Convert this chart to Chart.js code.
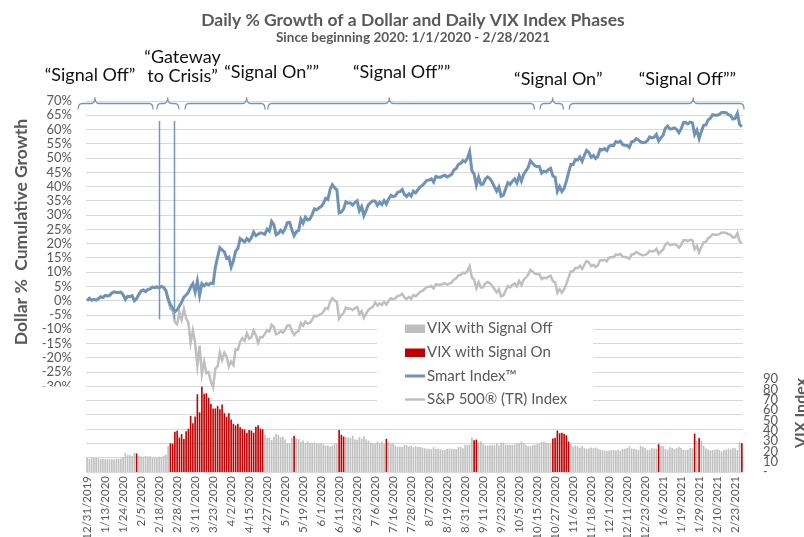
<!DOCTYPE html>
<html>
<head>
<meta charset="utf-8">
<title>Daily % Growth of a Dollar and Daily VIX Index Phases</title>
<script src="https://cdn.jsdelivr.net/npm/chart.js@4.4.1/dist/chart.umd.min.js"></script>
<style>
    html, body { margin: 0; padding: 0; background: #fff; }
    #chart_wrap { width: 804px; height: 537px; }
</style>
</head>
<body>
<div id="chart_wrap"><canvas id="chart_vix" width="804" height="537"></canvas></div>
<script>
// ----------------------- data -----------------------

// trading days per month ("YYYY-MM": days)
const tradingMonths = [
    ["2019-12", "31"],
    ["2020-01", "2 3 6 7 8 9 10 13 14 15 16 17 21 22 23 24 27 28 29 30 31"],
    ["2020-02", "3 4 5 6 7 10 11 12 13 14 18 19 20 21 24 25 26 27 28"],
    ["2020-03", "2 3 4 5 6 9 10 11 12 13 16 17 18 19 20 23 24 25 26 27 30 31"],
    ["2020-04", "1 2 3 6 7 8 9 13 14 15 16 17 20 21 22 23 24 27 28 29 30"],
    ["2020-05", "1 4 5 6 7 8 11 12 13 14 15 18 19 20 21 22 26 27 28 29"],
    ["2020-06", "1 2 3 4 5 8 9 10 11 12 15 16 17 18 19 22 23 24 25 26 29 30"],
    ["2020-07", "1 2 6 7 8 9 10 13 14 15 16 17 20 21 22 23 24 27 28 29 30 31"],
    ["2020-08", "3 4 5 6 7 10 11 12 13 14 17 18 19 20 21 24 25 26 27 28 31"],
    ["2020-09", "1 2 3 4 8 9 10 11 14 15 16 17 18 21 22 23 24 25 28 29 30"],
    ["2020-10", "1 2 5 6 7 8 9 12 13 14 15 16 19 20 21 22 23 26 27 28 29 30"],
    ["2020-11", "2 3 4 5 6 9 10 11 12 13 16 17 18 19 20 23 24 25 27 30"],
    ["2020-12", "1 2 3 4 7 8 9 10 11 14 15 16 17 18 21 22 23 24 28 29 30 31"],
    ["2021-01", "4 5 6 7 8 11 12 13 14 15 19 20 21 22 25 26 27 28 29"],
    ["2021-02", "1 2 3 4 5 8 9 10 11 12 16 17 18 19 22 23 24 25 26"],
];

// cumulative growth, % (one value per trading day)
const smartIndex = [
    0,
    0.85, 0.15, 0.5, 0.25, 0.7, 1.4, 1.1, 1.85, 1.7, 1.9, 2.75, 3.15, 2.9, 2.9, 3.05, 2.1, 0.5, 1.55, 1.45, 1.8, 0.0,
    0.75, 2.25, 3.4, 3.75, 3.2, 3.95, 4.15, 4.8, 4.65, 4.85, 4.55, 5.05, 4.65, 3.6, 0.7, -1.3, -2.6, -3.8, -3.2,
    -1.8, -0.5, 1.3, 2.0, 3.0, 4.8, 6.0, 3.0, 6.9, 1.9, 6.0, 5.2, 6.0, 5.6, 6.2, 6.0, 11.8, 15.3, 18.6, 17.8, 17.1, 14.8,
    15.3, 11.8, 14.0, 17.4, 18.3, 21.8, 21.2, 20.6, 21.8, 21.0, 22.1, 24.1, 22.8, 23.3, 23.8, 23.6, 23.3, 25.1, 24.4, 27.8, 26.7,
    23.1, 23.6, 24.7, 23.9, 25.3, 27.4, 27.5, 24.9, 22.8, 24.2, 24.6, 28.6, 27.2, 29.3, 28.3, 28.6, 30.2, 32.2, 31.9, 32.5,
    33.0, 34.1, 35.9, 35.5, 39.0, 40.7, 39.6, 38.9, 30.8, 31.1, 32.2, 34.7, 34.2, 34.3, 33.5, 34.4, 35.0, 31.5, 33.0, 29.8, 31.7, 33.7,
    34.4, 35.0, 34.9, 33.4, 34.5, 33.7, 35.1, 33.9, 35.7, 36.9, 36.5, 36.8, 38.0, 38.2, 39.0, 37.3, 36.5, 37.5, 36.7, 38.4, 37.8, 38.9,
    39.9, 40.4, 41.3, 42.2, 42.3, 42.7, 41.6, 43.6, 43.3, 43.3, 43.7, 44.0, 43.4, 43.8, 44.3, 45.8, 46.3, 47.8, 48.1, 49.1, 48.7,
    49.9, 52.2, 45.6, 44.4, 40.5, 43.3, 40.8, 40.9, 42.7, 43.4, 42.8, 41.6, 40.0, 38.4, 39.9, 36.6, 37.0, 39.2, 41.4, 40.8, 41.9,
    42.7, 41.3, 43.8, 41.9, 44.3, 45.5, 46.7, 49.1, 48.2, 47.3, 47.0, 47.1, 44.7, 45.4, 45.1, 45.9, 46.4, 43.7, 43.3, 38.3, 40.0, 38.3,
    39.4, 41.9, 45.0, 47.8, 47.7, 49.5, 49.3, 50.4, 48.9, 51.0, 52.7, 52.0, 50.3, 50.9, 49.9, 50.7, 53.1, 52.9, 53.3, 52.6,
    54.2, 54.5, 54.4, 55.8, 55.5, 55.9, 54.7, 54.5, 54.4, 53.7, 55.7, 55.9, 56.8, 56.3, 55.7, 55.4, 55.5, 56.1, 57.4, 57.1, 57.3, 58.3,
    56.0, 57.1, 58.0, 60.4, 61.2, 60.2, 60.3, 60.6, 60.1, 58.9, 60.2, 62.4, 62.5, 62.0, 62.6, 62.4, 58.3, 59.8, 56.8,
    59.3, 61.5, 61.6, 63.4, 64.0, 65.2, 65.0, 65.0, 65.3, 66.0, 66.0, 65.9, 65.2, 64.9, 63.7, 63.9, 65.7, 61.8, 61.0,
];

const spIndex = [
    0,
    0.85, 0.15, 0.5, 0.25, 0.7, 1.4, 1.1, 1.85, 1.7, 1.9, 2.75, 3.15, 2.9, 2.9, 3.05, 2.1, 0.5, 1.55, 1.45, 1.8, 0.0,
    0.75, 2.25, 3.4, 3.75, 3.2, 3.95, 4.15, 4.8, 4.65, 4.85, 4.55, 5.05, 4.65, 3.55, 0.1, -2.9, -3.25, -7.5, -8.25,
    -4.05, -6.7, -2.8, -6.1, -7.7, -14.7, -10.4, -14.8, -22.8, -15.7, -25.7, -21.3, -25.4, -25.0, -28.3, -30.3, -23.8, -23.0, -18.1, -20.8, -18.2, -19.5,
    -23.0, -21.3, -22.5, -17.0, -17.2, -14.4, -13.1, -14.0, -11.35, -13.3, -12.8, -10.45, -12.05, -14.75, -12.75, -12.8, -11.6, -10.3, -10.8, -8.4, -9.2,
    -11.75, -11.4, -10.6, -11.2, -10.15, -8.65, -8.6, -10.5, -12.0, -11.0, -10.65, -7.85, -8.8, -7.3, -8.0, -7.8, -6.65, -5.25, -5.45, -5.0,
    -4.65, -3.85, -2.55, -2.85, -0.33, 0.87, 0.1, -0.43, -6.24, -5.0, -4.22, -2.42, -2.76, -2.7, -3.24, -2.6, -2.18, -4.68, -3.63, -5.94, -4.57, -3.1,
    -2.6, -2.17, -0.62, -1.68, -0.9, -1.46, -0.43, -1.34, -0.03, 0.88, 0.55, 0.84, 1.69, 1.86, 2.45, 1.21, 0.6, 1.34, 0.7, 1.95, 1.58, 2.35,
    3.09, 3.46, 4.13, 4.8, 4.87, 5.16, 4.35, 5.8, 5.6, 5.58, 5.87, 6.12, 5.67, 6.0, 6.37, 7.44, 7.83, 8.92, 9.1, 9.84, 9.6,
    10.43, 12.12, 8.22, 7.36, 4.43, 6.51, 4.67, 4.73, 6.06, 6.61, 6.14, 5.27, 4.11, 2.93, 4.0, 1.57, 1.88, 3.49, 5.15, 4.66, 5.51,
    6.07, 5.07, 6.94, 5.48, 7.3, 8.16, 9.1, 10.88, 10.2, 9.48, 9.32, 9.34, 7.59, 8.1, 7.88, 8.44, 8.82, 6.84, 6.52, 2.83, 4.05, 2.8,
    4.05, 5.89, 8.2, 10.29, 10.26, 11.54, 11.39, 12.24, 11.15, 12.65, 13.95, 13.42, 12.13, 12.58, 11.83, 12.46, 14.26, 14.09, 14.37, 13.86,
    15.1, 15.31, 15.25, 16.26, 16.04, 16.37, 15.46, 15.33, 15.19, 14.71, 16.17, 16.38, 17.05, 16.65, 16.22, 15.99, 16.08, 16.49, 17.5, 17.24, 17.41, 18.16,
    16.45, 17.26, 17.93, 19.67, 20.32, 19.55, 19.61, 19.88, 19.45, 18.61, 19.56, 21.2, 21.25, 20.89, 21.33, 21.16, 18.11, 19.25, 17.0,
    18.86, 20.49, 20.61, 21.91, 22.39, 23.28, 23.15, 23.12, 23.33, 23.91, 23.85, 23.82, 23.3, 23.08, 22.16, 22.32, 23.69, 20.73, 20.17,
];

// daily VIX close
const vixClose = [
    13.78,
    12.47, 14.02, 13.85, 13.79, 13.45, 12.54, 12.56, 12.32, 12.39, 12.42, 12.32, 12.10, 12.85, 12.91, 12.98, 14.56, 18.23, 16.28, 16.39, 15.49, 18.84,
    17.97, 16.05, 15.15, 14.96, 15.47, 15.04, 15.18, 13.74, 14.15, 13.68, 14.83, 14.38, 15.56, 17.08, 25.03, 27.85, 27.56, 39.16, 40.11,
    33.42, 36.82, 31.99, 39.62, 41.94, 54.46, 47.30, 53.90, 75.47, 57.83, 82.69, 75.91, 76.45, 72.00, 66.04, 61.59, 61.67, 63.95, 61.00, 65.54, 57.08, 53.54,
    57.06, 50.91, 46.80, 45.24, 46.70, 43.35, 41.67, 41.17, 37.76, 40.84, 40.11, 38.15, 43.83, 45.41, 41.98, 41.38, 35.93, 33.29, 33.57, 31.23, 34.15,
    37.19, 35.97, 33.61, 34.12, 31.44, 27.98, 27.57, 33.04, 35.28, 32.61, 31.89, 29.30, 30.53, 27.99, 29.53, 28.16, 27.91, 28.59, 28.12, 27.51,
    28.23, 26.84, 25.66, 25.81, 24.52, 25.81, 27.57, 27.57, 40.79, 36.09, 34.40, 33.67, 33.47, 32.94, 35.12, 31.77, 31.37, 33.84, 32.22, 34.73, 31.78, 30.43,
    28.62, 27.68, 27.94, 29.43, 28.08, 29.26, 27.29, 32.19, 29.52, 27.76, 28.00, 25.68, 24.46, 24.84, 24.32, 26.08, 25.84, 24.74, 25.44, 24.10, 24.76, 24.46,
    24.28, 23.76, 22.99, 22.65, 22.21, 22.13, 24.03, 22.28, 22.59, 22.05, 21.35, 21.51, 22.54, 22.72, 22.54, 22.37, 22.03, 24.10, 24.47, 22.96, 26.41,
    26.12, 26.57, 33.60, 30.75, 31.46, 28.81, 29.71, 26.87, 25.85, 25.59, 26.04, 26.46, 25.83, 27.78, 25.79, 28.58, 28.51, 26.38, 26.19, 26.27, 26.37,
    26.70, 27.63, 27.96, 29.48, 28.06, 26.36, 25.00, 25.07, 26.07, 26.40, 26.97, 27.41, 29.18, 29.35, 28.65, 28.11, 27.55, 32.46, 33.35, 40.28, 37.59, 38.02,
    37.13, 35.55, 29.57, 27.58, 24.86, 25.75, 24.80, 23.45, 25.35, 23.10, 22.45, 22.71, 23.84, 23.11, 23.70, 22.66, 21.64, 21.25, 20.84, 20.57,
    20.77, 21.17, 21.28, 20.79, 21.30, 20.68, 22.27, 22.52, 23.31, 24.72, 22.89, 22.50, 21.93, 21.57, 25.16, 24.23, 23.31, 21.53, 21.70, 23.08, 22.77, 22.75,
    26.97, 25.34, 25.07, 22.37, 21.56, 24.08, 23.33, 22.21, 23.25, 24.34, 23.24, 21.58, 21.32, 21.91, 23.19, 23.02, 37.21, 30.21, 33.09,
    30.24, 25.56, 22.91, 21.77, 20.87, 21.24, 21.63, 21.99, 21.25, 19.97, 21.46, 21.50, 22.49, 22.05, 23.45, 23.11, 21.34, 28.89, 27.95,
];

// day-index ranges (inclusive) where the signal is on
const signalOnRanges = [
    [22, 22], [37, 78], [92, 92], [112, 114], [133, 133], [172, 173],
    [207, 214], [254, 254], [270, 270], [272, 272], [291, 291],
];

// phase annotations above the plot (in day-index units)
const phaseNames = ["\u201cSignal Off\u201d", "\u201cGateway|to Crisis\u201d", "\u201cSignal On\u201d\u201d",
                    "\u201cSignal Off\u201d\u201d", "\u201cSignal On\u201d", "\u201cSignal Off\u201d\u201d"];
const braceStart = [-4, 31, 43.5, 80.3, 201.3, 214.3];
const braceEnd = [29.3, 40.8, 79.1, 198.8, 211.7, 292];
const braceTip = [3.5, 35.8, 70.9, 134.3, 206.9, 269.4];
const phaseLabelAt = [1.3, 42.4, 82.0, 139.8, 209.4, 266.8];

// the two "gateway" markers (day index) and their extent in %
const gatewayDays = [32, 38.5];
const gatewayRange = [-6.5, 63];

// ----------------------- styles -----------------------

const FONT = "Lato, 'Open Sans', 'DejaVu Sans', sans-serif";
const TEXT_GREY = "#595959";
const GRID_GREY = "#D9D9D9";
const SMART_BLUE = "#6F93B6";
const BRACE_BLUE = "#7396B8";
const SP_GREY = "#BFBFBF";
const VIX_GREY = "#BFBFBF";
const VIX_RED = "#C00000";

Chart.defaults.font.family = FONT;
Chart.defaults.color = TEXT_GREY;

// ----------------------- helpers -----------------------

function buildLabels() {
    const out = [];
    tradingMonths.forEach(([ym, days]) => {
        const [y, m] = ym.split("-").map(Number);
        days.split(" ").forEach(d => out.push(`${m}/${d}/${y}`));
    });
    return out;
}

function isSignalOn(i) {
    return signalOnRanges.some(([a, b]) => i >= a && i <= b);
}

function drawBrace(ctx, x1, x2, xm, y) {
    const r = 4;
    ctx.beginPath();
    ctx.moveTo(x1, y + 6);
    ctx.quadraticCurveTo(x1, y, x1 + r, y);
    ctx.lineTo(xm - r, y);
    ctx.quadraticCurveTo(xm, y, xm, y - 6);
    ctx.quadraticCurveTo(xm, y, xm + r, y);
    ctx.lineTo(x2 - r, y);
    ctx.quadraticCurveTo(x2, y, x2, y + 6);
    ctx.stroke();
}

// ----------------------- overlay plugin -----------------------

const overlayPlugin = {
    id: "overlay",
    beforeDraw(chart) {
        const ctx = chart.ctx;
        ctx.save();
        ctx.fillStyle = "#fff";
        ctx.fillRect(0, 0, chart.width, chart.height);
        ctx.restore();
    },
    afterDatasetsDraw(chart) {
        const { ctx, scales } = chart;
        const x = scales.x, y = scales.y;
        ctx.save();
        ctx.strokeStyle = BRACE_BLUE;
        ctx.lineWidth = 1.5;
        gatewayDays.forEach(d => {
            const px = Math.round(x.getPixelForValue(d)) + 0.5;
            ctx.beginPath();
            ctx.moveTo(px, y.getPixelForValue(gatewayRange[1]));
            ctx.lineTo(px, y.getPixelForValue(gatewayRange[0]));
            ctx.stroke();
        });
        ctx.restore();
    },
    afterDraw(chart) {
        const { ctx, scales, chartArea } = chart;
        const x = scales.x;
        ctx.save();

        // hide the lower % labels (the VIX panel sits there)
        ctx.fillStyle = "#fff";
        ctx.fillRect(0, 386.5, chartArea.left - 8, chartArea.bottom - 384);

        // titles
        ctx.fillStyle = TEXT_GREY;
        ctx.textAlign = "center";
        ctx.textBaseline = "middle";
        ctx.font = `bold 17.5px ${FONT}`;
        ctx.fillText("Daily % Growth of a Dollar and Daily VIX Index Phases", 413, 20);
        ctx.font = `bold 13.5px ${FONT}`;
        ctx.fillText("Since beginning 2020: 1/1/2020 - 2/28/2021", 413, 38);

        // axis titles
        ctx.font = `bold 17.5px ${FONT}`;
        ctx.save();
        ctx.translate(21, 232);
        ctx.rotate(-Math.PI / 2);
        ctx.fillText("Dollar %  Cumulative Growth", 0, 0);
        ctx.restore();
        ctx.font = `bold 16px ${FONT}`;
        ctx.save();
        ctx.translate(801, 413);
        ctx.rotate(-Math.PI / 2);
        ctx.fillText("VIX Index", 0, 0);
        ctx.restore();

        // phase braces + labels
        ctx.strokeStyle = BRACE_BLUE;
        ctx.lineWidth = 1.3;
        braceStart.forEach((s, k) => {
            drawBrace(ctx, x.getPixelForValue(s), x.getPixelForValue(braceEnd[k]),
                      x.getPixelForValue(braceTip[k]), 103.5);
        });
        ctx.fillStyle = "#111";
        ctx.font = `18px ${FONT}`;
        phaseNames.forEach((name, k) => {
            const px = x.getPixelForValue(phaseLabelAt[k]);
            const lines = name.split("|");
            if (lines.length === 2) {
                ctx.fillText(lines[0], px, 57);
                ctx.fillText(lines[1], px, 76);
            } else {
                ctx.fillText(name, px, k === 0 ? 75 : (k >= 4 ? 79 : 72));
            }
        });

        // legend
        ctx.fillStyle = "#fff";
        ctx.fillRect(377, 318, 216, 92);
        ctx.textAlign = "left";
        ctx.font = `15px ${FONT}`;
        const items = [
            { label: "VIX with Signal Off", kind: "box", color: VIX_GREY, y: 328.5 },
            { label: "VIX with Signal On", kind: "box", color: VIX_RED, y: 352.5 },
            { label: "Smart Index\u2122", kind: "line", color: SMART_BLUE, w: 3, y: 376 },
            { label: "S&P 500\u00ae (TR) Index", kind: "line", color: SP_GREY, w: 2.5, y: 399.5 },
        ];
        items.forEach(it => {
            if (it.kind === "box") {
                ctx.fillStyle = it.color;
                ctx.fillRect(405, it.y - 4, 20, 8.5);
            } else {
                ctx.strokeStyle = it.color;
                ctx.lineWidth = it.w;
                ctx.beginPath();
                ctx.moveTo(405, it.y);
                ctx.lineTo(425, it.y);
                ctx.stroke();
            }
            ctx.fillStyle = TEXT_GREY;
            ctx.fillText(it.label, 427, it.y);
        });

        ctx.restore();
    }
};

// ----------------------- chart -----------------------

function buildChart() {
    const labels = buildLabels();
    const vixOff = vixClose.map((v, i) => isSignalOn(i) ? null : v);
    const vixOn = vixClose.map((v, i) => isSignalOn(i) ? v : null);

    const barCommon = {
        type: "bar",
        yAxisID: "yVix",
        grouped: false,
        barPercentage: 0.72,
        categoryPercentage: 1.0,
    };

    new Chart(document.getElementById("chart_vix"), {
        data: {
            labels: labels,
            datasets: [
                {
                    type: "line", label: "Smart Index\u2122", data: smartIndex, yAxisID: "y",
                    borderColor: SMART_BLUE, borderWidth: 3, pointRadius: 0, tension: 0, order: 0,
                },
                {
                    type: "line", label: "S&P 500\u00ae (TR) Index", data: spIndex, yAxisID: "y",
                    borderColor: SP_GREY, borderWidth: 2.5, pointRadius: 0, tension: 0, order: 1,
                },
                Object.assign({ label: "VIX with Signal On", data: vixOn, backgroundColor: VIX_RED, order: 2 }, barCommon),
                Object.assign({ label: "VIX with Signal Off", data: vixOff, backgroundColor: VIX_GREY, order: 3 }, barCommon),
            ]
        },
        options: {
            responsive: false,
            animation: false,
            layout: { padding: { top: 101, left: 0, right: 0, bottom: 0 } },
            plugins: {
                legend: { display: false },
                tooltip: { enabled: false },
            },
            scales: {
                x: {
                    type: "category",
                    offset: true,
                    grid: { display: false, drawTicks: false },
                    border: { display: false },
                    ticks: {
                        autoSkip: false,
                        minRotation: 90,
                        maxRotation: 90,
                        padding: 4,
                        color: TEXT_GREY,
                        font: { size: 11.5 },
                        callback: function (value, index) {
                            return index % 8 === 0 ? this.getLabelForValue(value) : null;
                        }
                    },
                    afterFit(scale) { scale.height = 65; }
                },
                y: {
                    position: "left",
                    min: -60,
                    max: 70,
                    grid: { color: GRID_GREY, lineWidth: 1, drawTicks: false },
                    border: { display: false },
                    ticks: {
                        stepSize: 5,
                        autoSkip: false,
                        padding: 14,
                        color: TEXT_GREY,
                        font: { size: 13 },
                        callback: v => (v >= -30 ? v + "%" : "")
                    },
                    afterFit(scale) { scale.width = 86; }
                },
                yVix: {
                    position: "right",
                    min: 0,
                    max: 360,
                    grid: { display: false, drawTicks: false },
                    border: { display: false },
                    ticks: {
                        stepSize: 10,
                        autoSkip: false,
                        padding: 20,
                        color: TEXT_GREY,
                        font: { size: 13 },
                        callback: v => (v === 0 ? "-" : (v <= 90 ? String(v) : null))
                    },
                    afterFit(scale) { scale.width = 61; }
                }
            }
        },
        plugins: [overlayPlugin]
    });
}

document.addEventListener("DOMContentLoaded", buildChart);
</script>
</body>
</html>
